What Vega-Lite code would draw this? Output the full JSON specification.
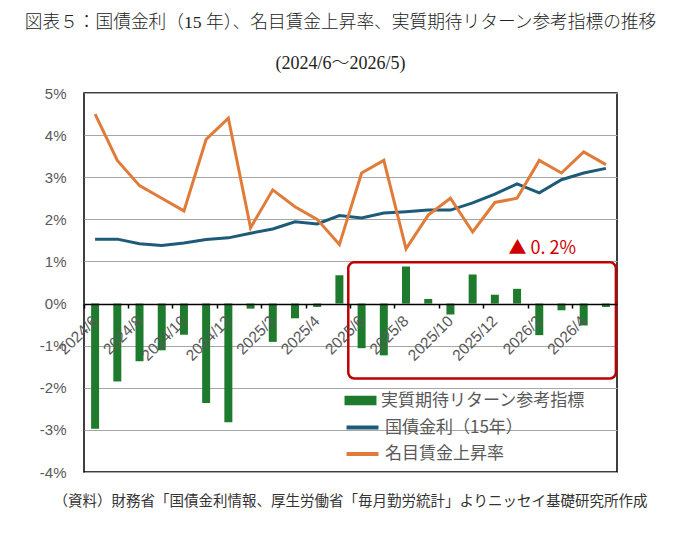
{
  "$schema": "https://vega.github.io/schema/vega-lite/v6.json",
  "autosize": "none",
  "width": 533,
  "height": 379,
  "padding": {"left": 84, "top": 93, "right": 63, "bottom": 62},
  "background": "white",
  "title": {
    "text": "図表５：国債金利（15 年）、名目賃金上昇率、実質期待リターン参考指標の推移",
    "subtitle": "(2024/6～2026/5)",
    "anchor": "middle",
    "frame": "group",
    "dx": -10,
    "offset": 13,
    "font": "Liberation Serif, Noto Sans CJK JP",
    "fontSize": 17.7,
    "fontWeight": 300,
    "color": "#222222",
    "subtitleFont": "Liberation Serif, Noto Sans CJK JP",
    "subtitleFontSize": 18,
    "subtitleFontWeight": 300,
    "subtitleColor": "#222222",
    "subtitlePadding": 23
  },
  "config": {
    "view": {"stroke": "#000000", "strokeWidth": 1.5},
    "axisY": {
      "ticks": false,
      "domain": false,
      "labelPadding": 18,
      "labelFont": "Liberation Sans",
      "labelFontSize": 15,
      "labelColor": "#595959",
      "gridColor": "#a6a6a6",
      "gridWidth": 1.2
    },
    "legend": {
      "title": null,
      "orient": "none",
      "direction": "vertical",
      "padding": 0,
      "symbolSize": 289,
      "labelOffset": 12,
      "labelLimit": 400,
      "labelFont": "Noto Sans CJK JP",
      "labelFontSize": 17,
      "labelColor": "#595959",
      "rowPadding": 7.5
    }
  },
  "data": {
    "values": [
      {"month": "2024/6", "real": -2.97, "jgb": 1.53, "wage": 4.5},
      {"month": "2024/7", "real": -1.85, "jgb": 1.53, "wage": 3.4},
      {"month": "2024/8", "real": -1.37, "jgb": 1.42, "wage": 2.8},
      {"month": "2024/9", "real": -1.11, "jgb": 1.38, "wage": 2.5},
      {"month": "2024/10", "real": -0.74, "jgb": 1.44, "wage": 2.2},
      {"month": "2024/11", "real": -2.36, "jgb": 1.52, "wage": 3.9},
      {"month": "2024/12", "real": -2.82, "jgb": 1.56, "wage": 4.4},
      {"month": "2025/1", "real": -0.12, "jgb": 1.67, "wage": 1.8},
      {"month": "2025/2", "real": -0.91, "jgb": 1.77, "wage": 2.7},
      {"month": "2025/3", "real": -0.35, "jgb": 1.94, "wage": 2.3},
      {"month": "2025/4", "real": -0.08, "jgb": 1.89, "wage": 2.0},
      {"month": "2025/5", "real": 0.67, "jgb": 2.09, "wage": 1.4},
      {"month": "2025/6", "real": -1.06, "jgb": 2.03, "wage": 3.1},
      {"month": "2025/7", "real": -1.23, "jgb": 2.15, "wage": 3.4},
      {"month": "2025/8", "real": 0.88, "jgb": 2.18, "wage": 1.3},
      {"month": "2025/9", "real": 0.11, "jgb": 2.22, "wage": 2.1},
      {"month": "2025/10", "real": -0.26, "jgb": 2.22, "wage": 2.5},
      {"month": "2025/11", "real": 0.69, "jgb": 2.39, "wage": 1.7},
      {"month": "2025/12", "real": 0.21, "jgb": 2.6, "wage": 2.4},
      {"month": "2026/1", "real": 0.35, "jgb": 2.84, "wage": 2.5},
      {"month": "2026/2", "real": -0.75, "jgb": 2.63, "wage": 3.4},
      {"month": "2026/3", "real": -0.16, "jgb": 2.94, "wage": 3.1},
      {"month": "2026/4", "real": -0.52, "jgb": 3.1, "wage": 3.6},
      {"month": "2026/5", "real": -0.08, "jgb": 3.21, "wage": 3.3}
    ]
  },
  "layer": [
    {
      "mark": {"type": "bar", "width": {"band": 0.36}},
      "encoding": {
        "x": {
          "field": "month",
          "type": "nominal",
          "sort": null,
          "title": null,
          "scale": {
            "domain": ["2024/6", "2024/7", "2024/8", "2024/9", "2024/10", "2024/11", "2024/12", "2025/1", "2025/2", "2025/3", "2025/4", "2025/5", "2025/6", "2025/7", "2025/8", "2025/9", "2025/10", "2025/11", "2025/12", "2026/1", "2026/2", "2026/3", "2026/4", "2026/5"],
            "paddingInner": 0,
            "paddingOuter": 0
          },
          "axis": {
            "orient": "bottom",
            "offset": -168,
            "values": ["2024/6", "2024/8", "2024/10", "2024/12", "2025/2", "2025/4", "2025/6", "2025/8", "2025/10", "2025/12", "2026/2", "2026/4"],
            "bandPosition": 0,
            "labelAngle": -45,
            "labelAlign": "right",
            "labelBaseline": "middle",
            "labelPadding": 10,
            "labelFont": "Liberation Sans",
            "labelFontSize": 15.5,
            "labelColor": "#595959",
            "tickSize": 4,
            "tickWidth": 1.5,
            "tickColor": "#000000",
            "domainColor": "#000000",
            "domainWidth": 1.5,
            "grid": false,
            "zindex": 1
          }
        },
        "y": {
          "field": "real",
          "type": "quantitative",
          "title": null,
          "scale": {"domain": [-4, 5], "nice": false},
          "axis": {
            "values": [-4, -3, -2, -1, 0, 1, 2, 3, 4, 5],
            "labelExpr": "datum.value + '%'"
          }
        },
        "fill": {
          "datum": "実質期待リターン参考指標",
          "scale": {"domain": ["実質期待リターン参考指標"], "range": ["#1e7b2e"]},
          "legend": {
            "legendX": 268,
            "legendY": 299,
            "symbolType": "M-1.88,-0.55H1.88V0.55H-1.88Z",
            "symbolStrokeWidth": 0
          }
        }
      }
    },
    {
      "mark": {"type": "line", "strokeWidth": 3},
      "encoding": {
        "x": {"field": "month", "type": "nominal", "sort": null, "title": null},
        "y": {"field": "jgb", "type": "quantitative", "title": null},
        "stroke": {
          "datum": "国債金利（15年）",
          "scale": {"domain": ["国債金利（15年）", "名目賃金上昇率"], "range": ["#1d5b79", "#e07b39"]},
          "legend": {
            "legendX": 268,
            "legendY": 324,
            "symbolType": "M-1.88,0H1.88",
            "symbolStrokeWidth": 4
          }
        }
      }
    },
    {
      "mark": {"type": "line", "strokeWidth": 3},
      "encoding": {
        "x": {"field": "month", "type": "nominal", "sort": null, "title": null},
        "y": {"field": "wage", "type": "quantitative", "title": null},
        "stroke": {"datum": "名目賃金上昇率"}
      }
    },
    {
      "data": {"values": [{"start": "2025/6", "end": "2026/5", "hi": 0.98, "lo": -1.78}]},
      "mark": {"type": "rect", "fill": null, "filled": false, "stroke": "#c00000", "strokeWidth": 2.5, "cornerRadius": 6},
      "encoding": {
        "x": {"field": "start", "type": "nominal", "title": null, "bandPosition": -0.1},
        "x2": {"field": "end", "bandPosition": 0.95},
        "y": {"field": "hi", "type": "quantitative", "title": null},
        "y2": {"field": "lo"}
      }
    },
    {
      "data": {"values": [{"label": "▲ 0. 2%", "at": "2026/2", "v": 1.3}]},
      "mark": {"type": "text", "color": "#d00000", "font": "Noto Sans CJK JP", "fontSize": 18, "dx": 3, "baseline": "middle"},
      "encoding": {
        "x": {"field": "at", "type": "nominal", "title": null},
        "y": {"field": "v", "type": "quantitative", "title": null},
        "text": {"field": "label"}
      }
    },
    {
      "data": {"values": [{"note": "（資料）財務省「国債金利情報、厚生労働省「毎月勤労統計」よりニッセイ基礎研究所作成"}]},
      "mark": {"type": "text", "color": "#333333", "font": "Liberation Serif, Noto Sans CJK JP", "fontSize": 14.5, "dy": 30, "baseline": "middle"},
      "encoding": {
        "y": {"datum": -4},
        "text": {"field": "note"}
      }
    }
  ]
}
